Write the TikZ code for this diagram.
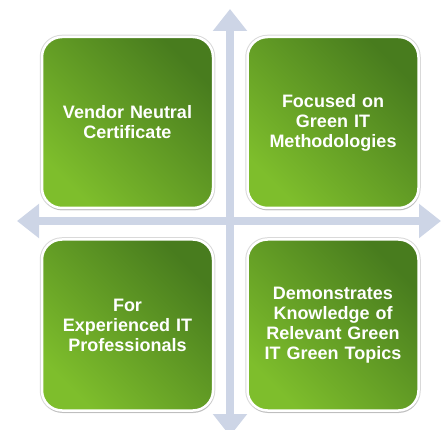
\documentclass[tikz,border=0pt]{standalone}
\usepackage{fontspec}
\setmainfont{Liberation Sans}
\usetikzlibrary{shapes,arrows.meta,positioning,shadows}
\definecolor{crossblue}{RGB}{205,213,230}
\definecolor{greendark}{RGB}{72,124,30}
\definecolor{greenlight}{RGB}{126,190,44}
\tikzstyle{block} = [rectangle, rounded corners=20pt, minimum width=171pt, minimum height=171pt, text width=150pt, align=center, text=white, font=\bfseries\fontsize{18}{20}\selectfont, top color=greendark, bottom color=greenlight, shading angle=-45, draw=white, line width=2.5pt, preaction={draw=black!15, line width=4.5pt}, drop shadow={shadow xshift=0.5pt, shadow yshift=-2.5pt, opacity=0.3}]
\tikzstyle{line} = [draw=crossblue, line width=8pt, {Triangle[width=33pt,length=22pt]}-{Triangle[width=33pt,length=22pt]}]
\begin{document}
\begin{tikzpicture}[x=1pt, y=-1pt]
    \useasboundingbox (0,0) rectangle (447,430);
    % cross behind the boxes
    \coordinate (top) at (230,9);
    \coordinate (bottom) at (230,436);
    \coordinate (left) at (17,221);
    \coordinate (right) at (441,221);
    \path [line] (top) -- (bottom);
    \path [line] (left) -- (right);
    % the four boxes
    \node [block] (vendor) at (127.5,122.5) {Vendor Neutral\\Certificate};
    \node [block, right=32pt of vendor] (focused) {Focused on\\Green IT\\Methodologies};
    \node [block, below=29pt of vendor] (experienced) {For\\Experienced IT\\Professionals};
    \node [block, below=29pt of focused] (knowledge) {Demonstrates\\Knowledge of\\Relevant Green\\IT Green Topics};
\end{tikzpicture}
\end{document}
